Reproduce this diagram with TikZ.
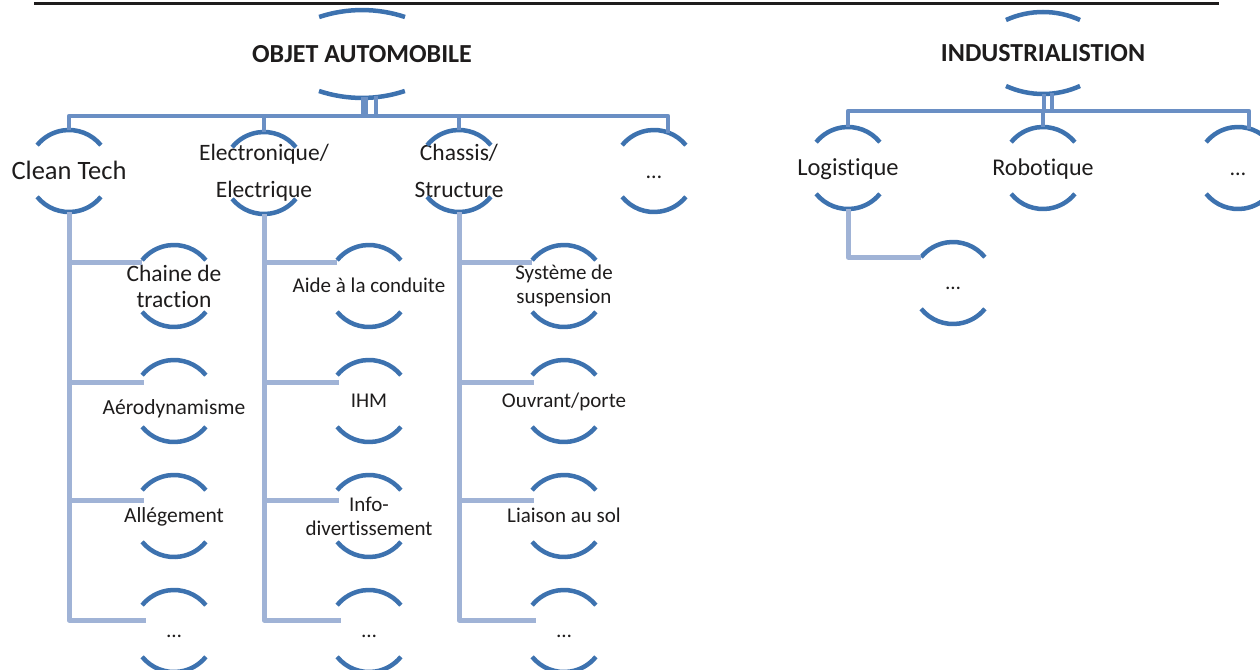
\documentclass[tikz,border=0pt]{standalone}
\usepackage{fontspec}
\setmainfont{Carlito}[Ligatures=CommonOff]
\usetikzlibrary{calc}
\definecolor{arcblue}{RGB}{61,114,175}
\definecolor{busblue}{RGB}{106,143,196}
\definecolor{subblue}{RGB}{160,179,214}
\definecolor{txt}{RGB}{30,28,28}
\tikzset{
  arcln/.style={draw=arcblue,line width=4.5pt},
  busln/.style={draw=busblue,line width=4.5pt,line join=round},
  subln/.style={draw=subblue,line width=5pt,line join=round},
  lbl/.style={text=txt,inner sep=0pt,align=center},
  one/.style={text height=#1,text depth=0pt},
  rootlbl/.style={lbl,one=16.7pt,font=\fontsize{26pt}{30pt}\selectfont\bfseries},
}
% name, x, y, node options, text
\newcommand\ringnode[5]{%
  \node[lbl,#4] (#1) at (#2,#3) {#5};
  \draw[arcln] ($(#1.center)+(39:41pt)$) arc[start angle=39,end angle=141,radius=41pt];
  \draw[arcln] ($(#1.center)+(219:41pt)$) arc[start angle=219,end angle=321,radius=41pt];
  \coordinate (#1-n) at ($(#1.center)+(0,41)$);
  \coordinate (#1-s) at ($(#1.center)+(0,-41)$);
  \coordinate (#1-w) at ($(#1.center)+(141:41pt)$);
}
\begin{document}
\begin{tikzpicture}[x=1pt,y=1pt]
\useasboundingbox (0,0) rectangle (1260,-669);
% caption rule
\coordinate (capL) at (34,-3.5);
\coordinate (capR) at (1219,-3.5);
\draw[draw=txt,line width=2.5pt] (capL) -- (capR);

% ---------- tree 1 ----------
\node[rootlbl] (r1) at (362,-54) {OBJET AUTOMOBILE};
\draw[arcln] ($(r1.center)+(-43,-37)$) arc[start angle=251.6,end angle=288.4,radius=136pt];
\draw[arcln] ($(r1.center)+(43,37)$) arc[start angle=71.6,end angle=108.4,radius=136pt];

\ringnode{c1}{69}{-171}{one=17pt,font=\fontsize{26.5pt}{30pt}\selectfont}{Clean Tech}
\ringnode{c2}{264}{-171}{yshift=-2pt,font=\fontsize{23.5pt}{37pt}\selectfont}{Electronique/\\Electrique}
\ringnode{c3}{459}{-171}{font=\fontsize{23.5pt}{37pt}\selectfont}{Chassis/\\Structure}
\ringnode{c4}{654}{-171}{one=14pt,font=\fontsize{22pt}{26pt}\selectfont}{…}
\coordinate (c4-in) at ($(c4.center)+(14,38.5)$);

\coordinate (r1-s) at ($(r1.center)+(2,-43)$);
\coordinate (r1-s2) at ($(r1.center)+(14,-42)$);
\coordinate (bus1) at (364,-116);
\draw[busln,line width=7pt] (r1-s) -- (bus1);
\draw[busln] (r1-s2) -- (r1-s2 |- bus1);
\draw[busln] (c1-n) |- (bus1) -| (c4-in);
\draw[busln] (c2-n) -- (c2-n |- bus1);
\draw[busln] (c3-n) -- (c3-n |- bus1);

% sub nodes
\ringnode{s11}{174}{-286}{font=\fontsize{23.5pt}{26pt}\selectfont}{Chaine de\\traction}
\ringnode{s12}{174}{-401}{one=27pt,font=\fontsize{21.5pt}{24pt}\selectfont}{Aérodynamisme}
\ringnode{s13}{174}{-516}{one=13.5pt,font=\fontsize{21.5pt}{24pt}\selectfont}{Allégement}
\ringnode{s14}{174}{-631}{one=13.5pt,font=\fontsize{21pt}{24pt}\selectfont}{…}
\ringnode{s21}{369}{-286}{one=13.5pt,font=\fontsize{21pt}{24pt}\selectfont}{Aide à la conduite}
\ringnode{s22}{369}{-401}{one=13.5pt,font=\fontsize{21pt}{24pt}\selectfont}{IHM}
\ringnode{s23}{369}{-516}{font=\fontsize{21pt}{24pt}\selectfont}{Info-\\divertissement}
\ringnode{s24}{369}{-631}{one=13.5pt,font=\fontsize{21pt}{24pt}\selectfont}{…}
\ringnode{s31}{564}{-286}{font=\fontsize{21pt}{24pt}\selectfont}{Système de\\suspension}
\ringnode{s32}{564}{-401}{one=13.5pt,font=\fontsize{21pt}{24pt}\selectfont}{Ouvrant/porte}
\ringnode{s33}{564}{-516}{one=13.5pt,font=\fontsize{21pt}{24pt}\selectfont}{Liaison au sol}
\ringnode{s34}{564}{-631}{one=13.5pt,font=\fontsize{21pt}{24pt}\selectfont}{…}

\foreach \k in {1,2,3}{
  \coordinate (s\k1-e) at ($(s\k1.center)+(-32,24)$);
  \coordinate (s\k2-e) at ($(s\k2.center)+(-30,19)$);
  \coordinate (s\k3-e) at ($(s\k3.center)+(-30,16)$);
  \coordinate (s\k4-e) at ($(s\k4.center)+(-28,11)$);
  \draw[subln] (c\k-s) |- (s\k4-e);
  \draw[subln] (c\k-s |- s\k1-e) -- (s\k1-e);
  \draw[subln] (c\k-s |- s\k2-e) -- (s\k2-e);
  \draw[subln] (c\k-s |- s\k3-e) -- (s\k3-e);
}

% ---------- tree 2 ----------
\node[rootlbl] (r2) at (1043,-53) {INDUSTRIALISTION};
\draw[arcln] ($(r2.center)+(-37,-33)$) arc[start angle=245.6,end angle=294.4,radius=89.6pt];
\draw[arcln] ($(r2.center)+(37,33)$) arc[start angle=65.6,end angle=114.4,radius=89.6pt];

\ringnode{d1}{848}{-168}{one=15.5pt,font=\fontsize{24.5pt}{28pt}\selectfont}{Logistique}
\ringnode{d2}{1043}{-168}{one=15.5pt,font=\fontsize{24pt}{28pt}\selectfont}{Robotique}
\ringnode{d3}{1238}{-168}{one=14pt,font=\fontsize{22pt}{26pt}\selectfont}{…}
\coordinate (d3-in) at ($(d3.center)+(11,39.5)$);
\ringnode{d11}{953}{-283}{one=13.5pt,font=\fontsize{21pt}{24pt}\selectfont}{…}

\coordinate (r2-s) at ($(r2.center)+(1,-41)$);
\coordinate (r2-s2) at ($(r2.center)+(9,-40)$);
\coordinate (bus2) at (1044,-111);
\draw[busln] (r2-s) -- (bus2);
\draw[busln] (r2-s2) -- (r2-s2 |- bus2);
\draw[busln] (d1-n) |- (bus2) -| (d3-in);
\draw[busln] (d2-n) -- (d2-n |- bus2);
\draw[subln] (d1-s) |- (d11-w);
\end{tikzpicture}
\end{document}
